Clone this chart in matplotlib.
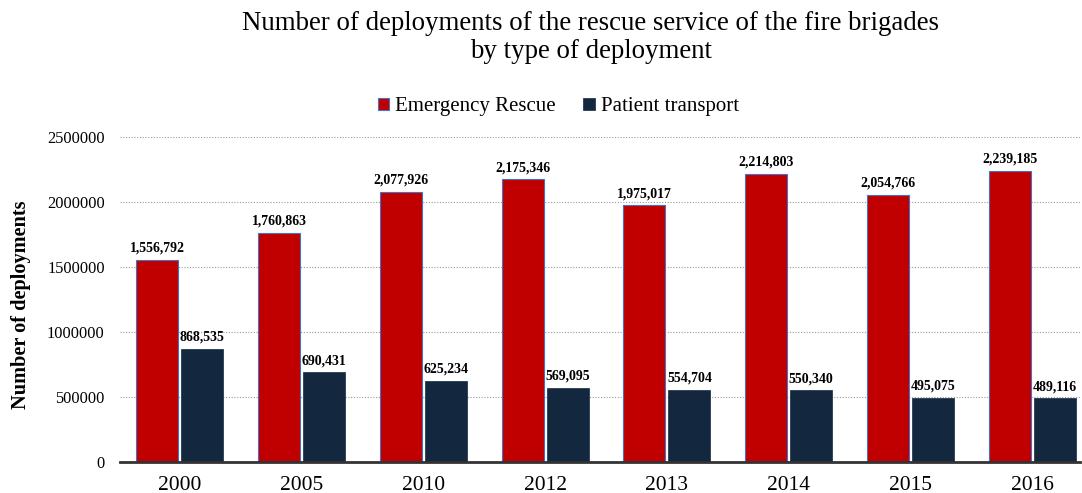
import numpy as np
import matplotlib
matplotlib.use("Agg")
import matplotlib.pyplot as plt

years = ["2000", "2005", "2010", "2012", "2013", "2014", "2015", "2016"]
emergency_rescue = [1556792, 1760863, 2077926, 2175346, 1975017, 2214803, 2054766, 2239185]
patient_transport = [868535, 690431, 625234, 569095, 554704, 550340, 495075, 489116]

RED = "#C00000"
NAVY = "#13283F"

plt.rcParams["font.family"] = ["Liberation Serif", "DejaVu Serif"]

fig = plt.figure(figsize=(10.82, 4.93), dpi=100)
ax = fig.add_axes([0.111, 0.063, 0.887, 0.659])

x = np.arange(len(years))
w = 0.345
gap = 0.012
b1 = ax.bar(x - w / 2 - gap, emergency_rescue, w, color=RED, edgecolor="#4472C4",
            linewidth=0.8, label="Emergency Rescue", zorder=3)
b2 = ax.bar(x + w / 2 + gap, patient_transport, w, color=NAVY, edgecolor=NAVY,
            linewidth=0.5, label="Patient transport", zorder=3)

for bars, vals in ((b1, emergency_rescue), (b2, patient_transport)):
    for r, v in zip(bars, vals):
        ax.text(r.get_x() + r.get_width() / 2, v + 40000, f"{v:,}", ha="center", va="bottom",
                fontsize=10, fontweight="bold", clip_on=False, zorder=4)

ax.set_xlim(-0.49, 7.39)
ax.set_ylim(0, 2500000)
ax.set_yticks(np.arange(0, 2500001, 500000))
ax.set_yticklabels([str(v) for v in range(0, 2500001, 500000)], fontsize=11.8)
ax.set_xticks(x)
ax.set_xticklabels(years, fontsize=15.5)
ax.tick_params(axis="both", length=0)
ax.tick_params(axis="y", pad=11)
ax.tick_params(axis="x", pad=10)
ax.grid(axis="y", color="#999999", linestyle=(0, (1, 1.5)), linewidth=0.8, zorder=0)

for s in ("top", "right", "left"):
    ax.spines[s].set_visible(False)
ax.spines["bottom"].set_color("#333333")
ax.spines["bottom"].set_linewidth(2)
ax.spines["bottom"].set_zorder(5)

ax.set_ylabel("Number of deployments", fontsize=14.6, fontweight="bold")
ax.yaxis.set_label_coords(-0.093, 0.483)

# two-line title, both lines centred on the same point
fig.text(0.546, 0.953, "Number of deployments of the rescue service of the fire brigades",
         ha="center", va="center", fontsize=19.4)
fig.text(0.546, 0.895, "by type of deployment", ha="center", va="center", fontsize=19.4)

fig.legend(handles=[b1, b2], loc="center", bbox_to_anchor=(0.516, 0.783), ncol=2,
           frameon=False, fontsize=15, handlelength=0.55, handleheight=0.55,
           handletextpad=0.3, columnspacing=1.3)

fig.savefig("out.png", dpi=100)
